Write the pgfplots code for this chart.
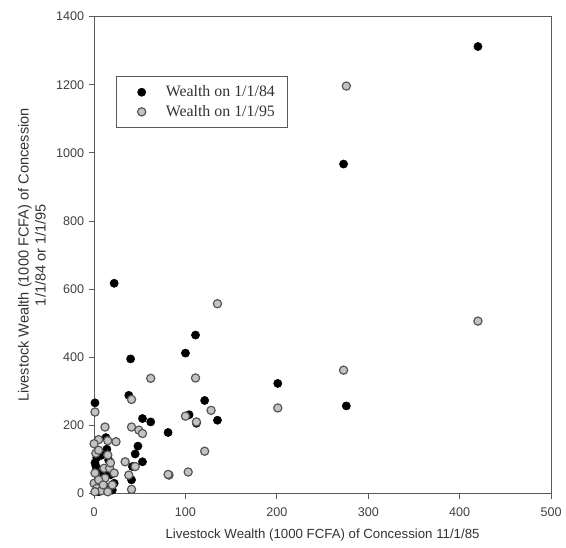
\documentclass[border=0pt]{standalone}
\usepackage{fontspec}
\setmainfont{Liberation Sans}
\newfontfamily\legfont{Liberation Serif}
\usepackage{pgfplots}
\pgfplotsset{compat=1.18}
\definecolor{axgray}{RGB}{90,90,90}
\definecolor{ptgray}{RGB}{195,195,195}
\definecolor{ptedge}{RGB}{85,85,85}
\begin{document}
\begin{tikzpicture}
\begin{axis}[
  scale only axis,
  width=345pt, height=360pt,
  xmin=0, xmax=500, ymin=0, ymax=1400,
  xtick={0,100,...,500}, ytick={0,200,...,1400},
  tick align=outside, tick pos=left,
  major tick length=4pt,
  axis line style={axgray, line width=0.6pt},
  every tick/.style={axgray, line width=0.6pt},
  tick label style={font=\fontsize{9.5}{10}\selectfont, text=black!75},
  xticklabel style={yshift=-3pt},
  /pgf/number format/assume math mode=true,
  /pgf/number format/set thousands separator={},
  xlabel={Livestock Wealth (1000 FCFA) of Concession 11/1/85},
  ylabel={Livestock Wealth (1000 FCFA) of Concession\\1/1/84 or 1/1/95},
  xlabel style={font=\fontsize{10}{11.5}\selectfont, text=black!80, inner sep=1pt, yshift=-4.8pt},
  ylabel style={font=\fontsize{11}{12.8}\selectfont, text=black!80, align=center, yshift=1pt},
  clip=false,
  legend style={at={(0.048,0.875)}, anchor=north west, draw=axgray,
    font=\legfont\fontsize{12}{14}\selectfont, text=black!80,
    inner xsep=7pt, inner ysep=5pt, row sep=1pt},
  legend cell align=left,
  legend image code/.code={\path (0pt,0pt) (28pt,0pt);
    \draw[#1] plot coordinates {(12pt,0pt)};},
]
\addplot[only marks, mark=*, mark size=3.1pt, mark options={fill=black, draw=black}]
coordinates {
(420,1312) (273,967) (22,617) (40,395) (100,412) (111,465) (201,323) (276,257)
(121,273) (135,215) (104,231) (112,206) (81,179) (38,288) (53,220) (62,210)
(48,139) (45,116) (53,93) (42,79) (41,40) (1,266) (13,164) (3,105) (1,90)
(2,80) (16,98) (7,40) (18,55) (12,20) (20,10) (5,5) (10,60) (22,30) (14,130)
(8,112) (2,65)
};
\addlegendentry{Wealth on 1/1/84}
\addplot[only marks, mark=*, mark size=3.1pt, mark options={fill=ptgray, draw=ptedge, line width=0.9pt}]
coordinates {
(420,506) (276,1196) (273,362) (201,251) (135,557) (111,339) (100,227) (128,244)
(112,210) (121,124) (103,63) (82,54) (62,338) (41,276) (41,195) (49,186)
(53,176) (34,93) (45,79) (38,54) (41,12) (81,56) (1,239) (12,195) (5,158)
(15,155) (24,152) (0,146) (2,118) (5,127) (15,113) (11,74) (17,74) (1,60)
(0,30) (3,15) (8,8) (15,5) (20,25) (12,45) (5,40) (22,60) (18,90) (1,5) (10,25)
};
\addlegendentry{Wealth on 1/1/95}
\draw[axgray, line width=0.6pt] (rel axis cs:0,1) -- (rel axis cs:1,1) -- (rel axis cs:1,0);
\path (rel axis cs:1,1) ++(8pt,12.5pt);
\path (rel axis cs:0,0) ++(-71pt,-40.5pt);
\end{axis}
\end{tikzpicture}
\end{document}
